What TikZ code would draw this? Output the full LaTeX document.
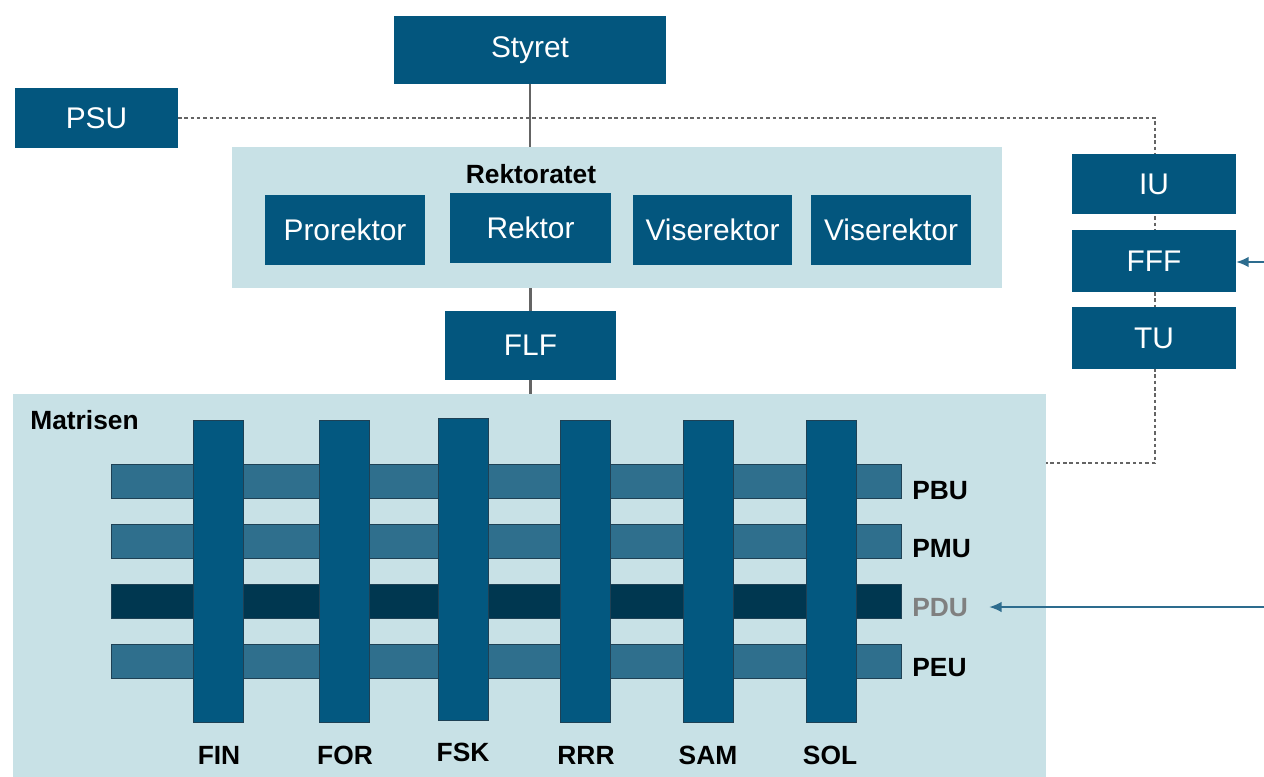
\documentclass[tikz,border=0pt]{standalone}
\usepackage{fontspec}
\setmainfont{Liberation Sans}
\usetikzlibrary{arrows.meta}
\definecolor{boxblue}{RGB}{3,86,126}
\definecolor{hbar}{RGB}{47,111,141}
\definecolor{hbardark}{RGB}{0,55,80}
\definecolor{vbar}{RGB}{3,88,128}
\definecolor{lightbg}{RGB}{200,225,230}
\definecolor{conn}{RGB}{100,100,100}
\definecolor{arrblue}{RGB}{45,108,142}
\definecolor{barline}{RGB}{30,65,85}
\tikzset{
  orgbox/.style={fill=boxblue, text=white, font=\fontsize{17}{20}\selectfont, inner sep=0pt, minimum width=#1},
  bgbox/.style={fill=lightbg, inner sep=0pt},
  hbarstyle/.style={fill=hbar, draw=barline, line width=0.5pt, minimum width=15.82cm, minimum height=0.68cm, inner sep=0pt},
  vbarstyle/.style={fill=vbar, draw=barline, line width=0.3pt, minimum width=1cm, minimum height=6.04cm, inner sep=0pt},
  blabel/.style={font=\bfseries\fontsize{15}{18}\selectfont, text=black, inner sep=0pt},
  solidconn/.style={draw=conn, line width=1.3pt},
  dotconn/.style={draw=conn, line width=1.3pt, dash pattern=on 2pt off 1.6pt},
  arrconn/.style={draw=arrblue, line width=0.9pt, -{Latex[length=7pt,width=6pt]}},
}
\begin{document}
\begin{tikzpicture}[x=0.02cm, y=-0.02cm]
\useasboundingbox (0,0) rectangle (1264,777);
% backgrounds
\node[bgbox, minimum width=15.4cm, minimum height=2.82cm] (rekt) at (617,217.5) {};
\node[bgbox, minimum width=20.66cm, minimum height=7.66cm] (mat) at (529.5,585.5) {};
% dotted line behind right column
\coordinate (corner) at (1155,463);
\coordinate (start) at (178,118);
\draw[dotconn] (start) -| (corner) -- (corner -| mat.east);
% top boxes
\node[orgbox=5.44cm, minimum height=1.36cm] (styret) at (530,50) {Styret};
\node[orgbox=3.26cm, minimum height=1.2cm] (psu) at (96.5,118) {PSU};
\node[blabel] (rektlabel) at (531,174) {Rektoratet};
\node[orgbox=3.2cm, minimum height=1.4cm] (prorektor) at (345,230) {Prorektor};
\node[orgbox=3.22cm, minimum height=1.4cm] (rektor) at (530.5,228) {Rektor};
\node[orgbox=3.18cm, minimum height=1.4cm] (vise1) at (712.5,230) {Viserektor};
\node[orgbox=3.2cm, minimum height=1.4cm] (vise2) at (891,230) {Viserektor};
\node[orgbox=3.44cm, minimum height=1.38cm] (flf) at (530.5,345.5) {FLF};
\node[orgbox=3.28cm, minimum height=1.2cm] (iu) at (1154,184) {IU};
\node[orgbox=3.28cm, minimum height=1.24cm] (fff) at (1154,261) {FFF};
\node[orgbox=3.28cm, minimum height=1.24cm] (tu) at (1154,338) {TU};
% connectors
\draw[solidconn] (styret.south) -- (styret.south |- rekt.north);
\draw[solidconn] (flf.north |- rekt.south) -- (flf.north);
\draw[solidconn] (flf.south) -- (flf.south |- mat.north);
% matrix
\node[blabel, anchor=west] (matlabel) at (30,420) {Matrisen};
\node[hbarstyle] (pbubar) at (506.5,481) {};
\node[hbarstyle] (pmubar) at (506.5,541) {};
\node[hbarstyle, fill=hbardark] (pdubar) at (506.5,601) {};
\node[hbarstyle] (peubar) at (506.5,661.5) {};
\node[vbarstyle] (finbar) at (218,571) {};
\node[vbarstyle] (forbar) at (344,571) {};
\node[vbarstyle] (fskbar) at (463,569) {};
\node[vbarstyle] (rrrbar) at (585,571) {};
\node[vbarstyle] (sambar) at (708,571) {};
\node[vbarstyle] (solbar) at (831,571) {};
\node[blabel] (fin) at (219,755) {FIN};
\node[blabel] (for) at (345,755) {FOR};
\node[blabel] (fsk) at (463,752) {FSK};
\node[blabel] (rrr) at (586,755) {RRR};
\node[blabel] (sam) at (708,755) {SAM};
\node[blabel] (sol) at (830,755) {SOL};
\node[blabel, anchor=west] (pbu) at (912,491) {PBU};
\node[blabel, anchor=west] (pmu) at (912,549) {PMU};
\node[blabel, anchor=west, text=gray] (pdu) at (912,608) {PDU};
\node[blabel, anchor=west] (peu) at (912,668) {PEU};
% arrows from the right
\coordinate (inFFF) at (1264,262);
\coordinate (inPDU) at (1264,607);
\draw[arrconn] (inFFF) -- (inFFF -| fff.east);
\draw[arrconn] (inPDU) -- ([xshift=0.42cm]pdu.east |- inPDU);
\end{tikzpicture}
\end{document}
